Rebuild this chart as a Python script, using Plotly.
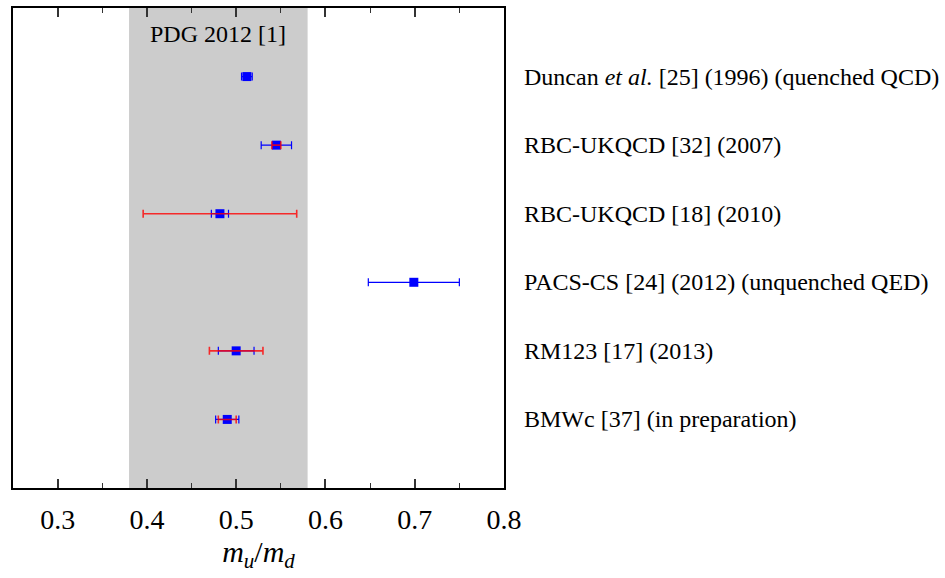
import plotly.graph_objects as go

labels = [
    "Duncan <i>et al.</i> [25] (1996) (quenched QCD)",
    "RBC-UKQCD [32] (2007)",
    "RBC-UKQCD [18] (2010)",
    "PACS-CS [24] (2012) (unquenched QED)",
    "RM123 [17] (2013)",
    "BMWc [37] (in preparation)",
]
positions = [6, 5, 4, 3, 2, 1]
values = [0.512, 0.545, 0.4818, 0.699, 0.500, 0.490]
err_stat = [0.006, 0.017, 0.0096, 0.051, 0.020, 0.013]
err_sys = [None, 0.005, 0.086, None, 0.030, 0.010]

pdg_low, pdg_high = 0.38, 0.58
pdg_label = "PDG 2012 [1]"
tick_vals = [0.3, 0.4, 0.5, 0.6, 0.7, 0.8]
tick_text = ["0.3", "0.4", "0.5", "0.6", "0.7", "0.8"]

FONT = "Liberation Serif"

fig = go.Figure()

# PDG band
fig.add_shape(type="rect", xref="x", yref="paper", x0=pdg_low, x1=pdg_high,
              y0=0, y1=1, fillcolor="#cccccc", line=dict(width=0), layer="below")

# blue (statistical) error bars + markers
fig.add_trace(go.Scatter(
    x=values, y=positions, mode="markers",
    marker=dict(symbol="square", size=9, color="#0000ff"),
    error_x=dict(type="data", array=err_stat, color="#0000ff", thickness=1.2, width=4),
    showlegend=False, hoverinfo="skip",
))

# red (systematic) error bars on top
sx = [v for v, e in zip(values, err_sys) if e is not None]
sy = [p for p, e in zip(positions, err_sys) if e is not None]
se = [e for e in err_sys if e is not None]
fig.add_trace(go.Scatter(
    x=sx, y=sy, mode="markers",
    marker=dict(size=1, color="rgba(0,0,0,0)"),
    error_x=dict(type="data", array=se, color="rgba(255,0,0,0.8)", thickness=1.6, width=4),
    showlegend=False, hoverinfo="skip",
))

# right-side labels
for lab, p in zip(labels, positions):
    fig.add_annotation(x=1, xref="paper", xshift=18, y=p, yref="y",
                       text=lab, showarrow=False, xanchor="left", yanchor="middle",
                       font=dict(family=FONT, size=24, color="black"))

fig.add_annotation(x=(pdg_low + pdg_high) / 2, xref="x", y=1, yref="paper", yshift=-26,
                   text=pdg_label, showarrow=False, xanchor="center", yanchor="middle",
                   font=dict(family=FONT, size=24, color="black"))

fig.update_layout(
    width=945, height=578,
    margin=dict(l=13, r=441, t=6, b=90),
    paper_bgcolor="white", plot_bgcolor="white",
    font=dict(family=FONT, color="black"),
    xaxis=dict(
        range=[0.25, 0.8], tickvals=tick_vals, ticktext=tick_text,
        ticks="inside", ticklen=9, tickwidth=1.5, tickcolor="#333333",
        minor=dict(ticks="inside", ticklen=5, tickwidth=1.2, tickcolor="#333333",
                   tick0=0.25, dtick=0.05),
        showline=True, linecolor="black", linewidth=2, mirror="ticks",
        showgrid=False, zeroline=False,
        ticklabelstandoff=5,
        tickfont=dict(family=FONT, size=28, color="black"),
        title=dict(text="<i>m</i><sub><i>u</i></sub>/<i>m</i><sub><i>d</i></sub>",
                   font=dict(family=FONT, size=30, color="black"), standoff=6),
    ),
    yaxis=dict(
        range=[0, 7], showticklabels=False, ticks="",
        showline=True, linecolor="black", linewidth=2, mirror=True,
        showgrid=False, zeroline=False,
    ),
)

fig.write_html("out.html", config={"displayModeBar": False},
               post_script="document.body.style.margin='0';document.body.style.padding='0';")
